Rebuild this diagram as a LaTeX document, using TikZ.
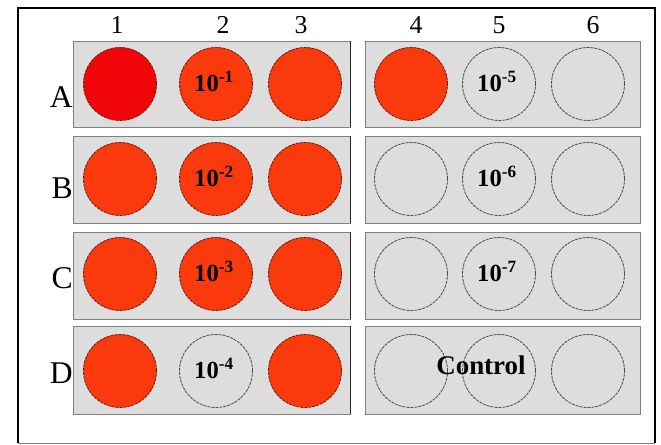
\documentclass[tikz,border=0pt]{standalone}
\usepackage{fontspec}
\setmainfont{Liberation Serif}
\usetikzlibrary{calc}
\definecolor{wellred}{RGB}{240,6,8}
\definecolor{wellorange}{RGB}{250,58,12}
\definecolor{rimred}{RGB}{115,28,12}
\definecolor{platefill}{RGB}{221,221,221}

\tikzset{
  well/.style={circle, inner sep=0pt, minimum size=2.19cm, line width=0.7pt,
    dash pattern=on 2.6pt off 0.8pt},
  redwell/.style={well, fill=wellred, draw=rimred},
  hitwell/.style={well, fill=wellorange, draw=rimred},
  emptywell/.style={well, fill=platefill, draw=black!70},
  dilution/.style={inner sep=0pt, yshift=2pt, font=\fontsize{21}{21}\selectfont\bfseries},
  rowlabel/.style={inner sep=0pt, anchor=east, font=\fontsize{27}{27}\selectfont},
  collabel/.style={inner sep=0pt, font=\fontsize{22}{22}\selectfont}
}

\begin{document}
\begin{tikzpicture}[x=0.03cm, y=-0.03cm]
  \useasboundingbox (0,0) rectangle (661,445);
  % outer frame
  \draw[line width=1.4pt] (18,443) -- (18,8) -- (655,8) -- (655,443);
  \draw[gray, line width=0.6pt] (18,443) -- (655,443);
  % the two strips of each row
  \foreach \r/\t/\b in {A/41/127, B/136/223, C/232/319, D/326/414} {
    \draw[fill=platefill, draw=gray] (73,\t) rectangle (350,\b);
    \draw[black!85] (350,\t) -- (350,\b);
    \draw[fill=platefill, draw=gray] (365,\t) rectangle (640,\b);
  }
  % column and row labels
  \foreach \c/\x in {1/117, 2/223, 3/301, 4/416, 5/499, 6/593}
    \node[collabel] (col-\c) at (\x,25) {\c};
  \foreach \r/\y in {A/97, B/188, C/278, D/373}
    \node[rowlabel] (row-\r) at (73,\y) {\r};
  % wells: coloured where the reaction is positive
  \foreach \r/\y/\wells in {
      A/84/{redwell,hitwell,hitwell,hitwell,emptywell,emptywell},
      B/179/{hitwell,hitwell,hitwell,emptywell,emptywell,emptywell},
      C/274/{hitwell,hitwell,hitwell,emptywell,emptywell,emptywell},
      D/371/{hitwell,emptywell,hitwell,emptywell,emptywell,emptywell}} {
    \foreach \s [count=\c] in \wells {
      \pgfmathsetmacro{\wx}{{120,216,305,411,499,588}[\c-1]}
      \node[\s] (w-\r-\c) at (\wx,\y) {};
    }
  }
  % dilutions
  \foreach \r/\k in {A/1, B/2, C/3, D/4}
    \node[dilution] (d-\r-2) at ($(w-\r-2)+(-2,0)$) {10\textsuperscript{-\k}};
  \foreach \r/\k in {A/5, B/6, C/7}
    \node[dilution] (d-\r-5) at ($(w-\r-5)+(-2,0)$) {10\textsuperscript{-\k}};
  \node[dilution, font=\fontsize{23}{23}\selectfont\bfseries] (control) at (481,368) {Control};
\end{tikzpicture}
\end{document}
